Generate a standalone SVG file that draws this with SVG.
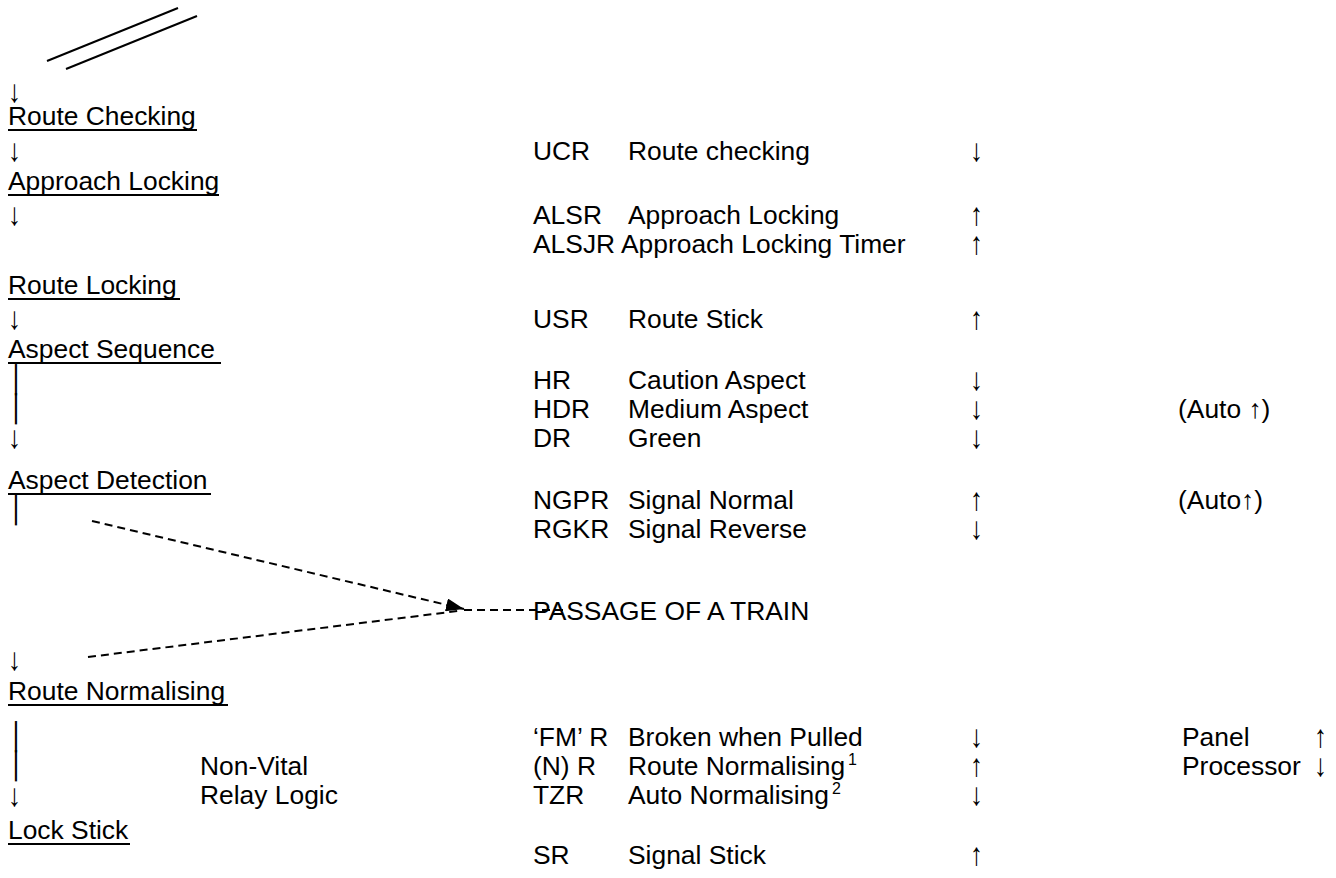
<svg xmlns="http://www.w3.org/2000/svg" width="1336" height="878" viewBox="0 0 1336 878">
<defs>
<style>
text{font-family:"Liberation Sans",Arial,sans-serif;font-size:26.4px;fill:#000}
.bar{font-family:"DejaVu Sans",sans-serif}
.sup{font-size:16px}
.ul{stroke:#000;stroke-width:2}
.dash{stroke:#000;stroke-width:2;stroke-dasharray:8 5;fill:none}
.solid{stroke:#000;stroke-width:2;fill:none}
</style>
<marker id="ah" viewBox="0 0 18 13" refX="18" refY="6.5" markerWidth="18" markerHeight="13" markerUnits="userSpaceOnUse" orient="auto">
<path d="M0,0 L18,6.5 L0,13 Z" fill="#000"/>
</marker>
</defs>
<rect width="1336" height="878" fill="#fff"/>
<g id="top-lines">
<line class="solid" x1="47" y1="61" x2="178" y2="8"/>
<line class="solid" x1="66" y1="69" x2="197" y2="16"/>
</g>
<g id="left-column">
<text transform="translate(8 102) scale(1 1.2)">↓</text>
<text x="8" y="125">Route Checking</text><line class="ul" x1="8" y1="130" x2="197" y2="130"/>
<text transform="translate(8 161) scale(1 1.2)">↓</text>
<text x="8" y="190">Approach Locking</text><line class="ul" x1="8" y1="195" x2="219" y2="195"/>
<text transform="translate(8 225) scale(1 1.2)">↓</text>
<text x="8" y="294">Route Locking</text><line class="ul" x1="8" y1="299" x2="180" y2="299"/>
<text transform="translate(8 329) scale(1 1.2)">↓</text>
<text x="8" y="358">Aspect Sequence</text><line class="ul" x1="8" y1="363" x2="221" y2="363"/>
<text x="8" y="389" class="bar">│</text>
<text x="8" y="418" class="bar">│</text>
<text transform="translate(8 448) scale(1 1.2)">↓</text>
<text x="8" y="489">Aspect Detection</text><line class="ul" x1="8" y1="494" x2="211" y2="494"/>
<text x="8" y="519" class="bar">│</text>
<text transform="translate(8 670) scale(1 1.2)">↓</text>
<text x="8" y="700">Route Normalising</text><line class="ul" x1="8" y1="705" x2="228" y2="705"/>
<text x="8" y="746" class="bar">│</text>
<text x="8" y="775" class="bar">│</text>
<text transform="translate(8 806) scale(1 1.2)">↓</text>
<text x="8" y="839">Lock Stick</text><line class="ul" x1="8" y1="844" x2="130" y2="844"/>
</g>
<g id="relay-logic">
<text x="200" y="775">Non-Vital</text>
<text x="200" y="804">Relay Logic</text>
</g>
<g id="route-checking">
<text x="533" y="160">UCR</text><text x="628" y="160">Route checking</text><text transform="translate(970 161) scale(1 1.2)">↓</text>
</g>
<g id="approach-locking">
<text x="533" y="224">ALSR</text><text x="628" y="224">Approach Locking</text><text transform="translate(970 225) scale(1 1.2)">↑</text>
<text x="533" y="253">ALSJR Approach Locking Timer</text><text transform="translate(970 254) scale(1 1.2)">↑</text>
</g>
<g id="route-locking">
<text x="533" y="328">USR</text><text x="628" y="328">Route Stick</text><text transform="translate(970 329) scale(1 1.2)">↑</text>
</g>
<g id="aspect-sequence">
<text x="533" y="389">HR</text><text x="628" y="389">Caution Aspect</text><text transform="translate(970 390) scale(1 1.2)">↓</text>
<text x="533" y="418">HDR</text><text x="628" y="418">Medium Aspect</text><text transform="translate(970 419) scale(1 1.2)">↓</text><text x="1178" y="418">(Auto ↑)</text>
<text x="533" y="447">DR</text><text x="628" y="447">Green</text><text transform="translate(970 448) scale(1 1.2)">↓</text>
</g>
<g id="aspect-detection">
<text x="533" y="509">NGPR</text><text x="628" y="509">Signal Normal</text><text transform="translate(970 510) scale(1 1.2)">↑</text><text x="1178" y="509">(Auto↑)</text>
<text x="533" y="538">RGKR</text><text x="628" y="538">Signal Reverse</text><text transform="translate(970 539) scale(1 1.2)">↓</text>
</g>
<g id="passage">
<text x="533" y="620">PASSAGE OF A TRAIN</text>
</g>
<g id="route-normalising">
<text x="533" y="746">‘FM’ R</text><text x="628" y="746">Broken when Pulled</text><text transform="translate(970 747) scale(1 1.2)">↓</text><text x="1182" y="746">Panel</text><text transform="translate(1314 747) scale(1 1.2)">↑</text>
<text x="533" y="775">(N) R</text><text x="628" y="775">Route Normalising<tspan class="sup" dx="3" dy="-10">1</tspan></text><text transform="translate(970 776) scale(1 1.2)">↑</text><text x="1182" y="775">Processor</text><text transform="translate(1314 776) scale(1 1.2)">↓</text>
<text x="533" y="804">TZR</text><text x="628" y="804">Auto Normalising<tspan class="sup" dx="3" dy="-10">2</tspan></text><text transform="translate(970 805) scale(1 1.2)">↓</text>
</g>
<g id="lock-stick">
<text x="533" y="864">SR</text><text x="628" y="864">Signal Stick</text><text transform="translate(970 865) scale(1 1.2)">↑</text>
</g>
<g id="connectors">
<line class="dash" x1="92" y1="521" x2="464" y2="609" marker-end="url(#ah)"/>
<line class="dash" x1="88" y1="657" x2="458" y2="611"/>
<line class="dash" x1="464" y1="610" x2="568" y2="610"/>
</g>
</svg>
